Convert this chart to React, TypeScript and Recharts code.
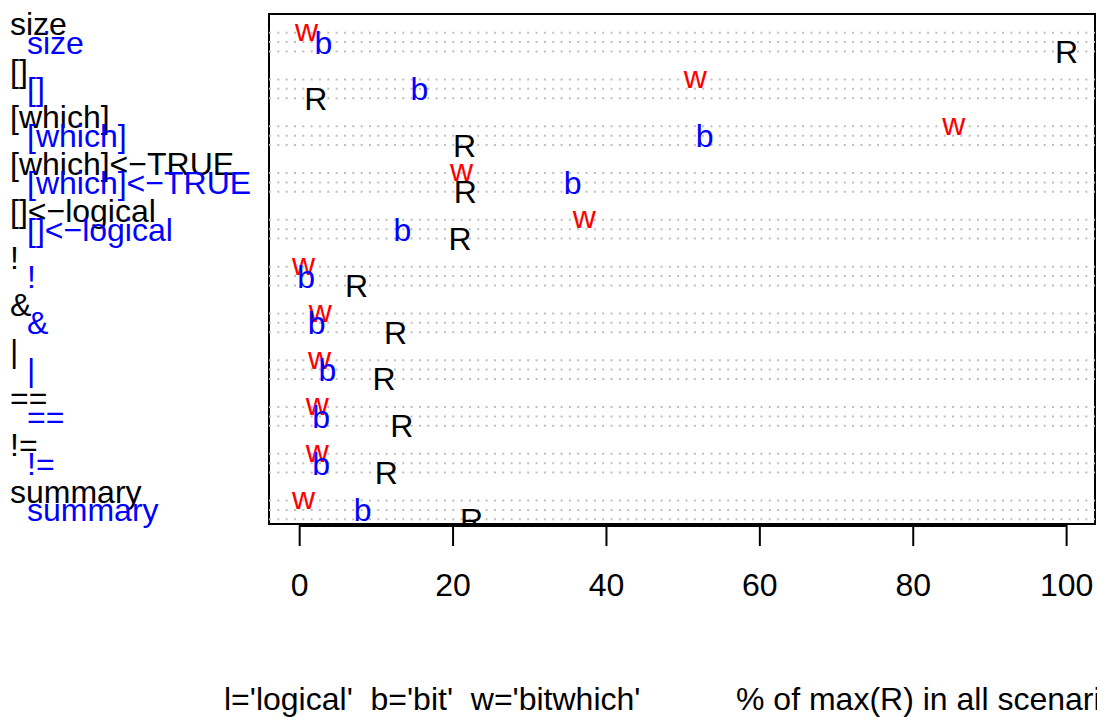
import React from 'react';
import {
  ComposedChart,
  Scatter,
  XAxis,
  YAxis,
  ReferenceLine,
  ReferenceArea,
  Customized,
} from 'recharts';

// group labels, top to bottom
const groups = [
  'size',
  '[]',
  '[which]',
  '[which]<\u2212TRUE',
  '[]<\u2212logical',
  '!',
  '&',
  '|',
  '==',
  '!=',
  'summary',
];

// % of max(R)
const logicalR = [100, 2.1, 21.5, 21.6, 20.9, 7.4, 12.5, 11.0, 13.3, 11.3, 22.4];
const bitValues = [3.1, 15.6, 52.8, 35.6, 13.4, 0.85, 2.2, 3.6, 2.8, 2.8, 8.2];
const bitwhichValues = [0.9, 51.6, 85.3, 21.1, 37.1, 0.5, 2.7, 2.6, 2.3, 2.3, 0.5];

const xTicks = [0, 20, 40, 60, 80, 100];
const legendText = "l='logical'  b='bit'  w='bitwhich'";
const axisTitle = '% of max(R) in all scenarios';

const FONT = "'Liberation Sans', Arial, Helvetica, sans-serif";
const FS = 32;
const X_DOMAIN: [number, number] = [-4, 103.7];
const Y_DOMAIN: [number, number] = [0, 54.5];

// each group takes 5 rows: label, 3 points, gap
const rowOf = (g: number, slot: number) => g * 5 + 2 + slot;
const groupLabelRow = (g: number) => g * 5 + 1;
const itemLabelRow = (g: number) => g * 5 + 3;

const series = [
  { letter: 'w', color: '#FF0000', values: bitwhichValues, slot: 0, dy: '0.26em' },
  { letter: 'b', color: '#0000FF', values: bitValues, slot: 1, dy: '0.36em' },
  { letter: 'R', color: '#000000', values: logicalR, slot: 2, dy: '0.36em' },
];

const gridRows = groups.flatMap((_, g) => [0, 1, 2].map((k) => rowOf(g, k)));

const labelByRow = new Map<number, { text: string; color: string; left: number }>();
groups.forEach((name, g) => {
  labelByRow.set(groupLabelRow(g), { text: name, color: '#000000', left: 10 });
  labelByRow.set(itemLabelRow(g), { text: name, color: '#0000FF', left: 27 });
});
const labelRows = Array.from(labelByRow.keys()).sort((a, b) => a - b);

function RowLabel(props: any) {
  const { y, payload } = props;
  const info = labelByRow.get(payload.value);
  if (!info) return null;
  return (
    <text x={info.left} y={y} dy="0.36em" fontSize={FS} fontFamily={FONT} fill={info.color} textAnchor="start">
      {info.text}
    </text>
  );
}

function letterShape(letter: string, color: string, dy: string) {
  return (props: any) => (
    <text
      x={props.cx}
      y={props.cy}
      dy={dy}
      textAnchor="middle"
      fontSize={FS}
      fontFamily={FONT}
      fill={color}
    >
      {letter}
    </text>
  );
}

function BottomTexts() {
  return (
    <g fontFamily={FONT} fontSize={FS} fill="#000">
      <text x={224} y={710} xmlSpace="preserve" style={{ whiteSpace: 'pre' }}>
        {legendText}
      </text>
      <text x={736} y={710}>
        {axisTitle}
      </text>
    </g>
  );
}

export default function App() {
  return (
    <div
      style={{
        position: 'absolute',
        left: 0,
        top: 0,
        width: 1097,
        height: 717,
        overflow: 'hidden',
        background: '#fff',
      }}
    >
      <ComposedChart width={1097} height={717} margin={{ top: 14, right: 2, bottom: 153, left: 0 }}>
        <XAxis
          type="number"
          dataKey="x"
          domain={X_DOMAIN}
          allowDataOverflow
          ticks={xTicks}
          interval={0}
          height={40}
          axisLine={false}
          tickSize={22}
          tickMargin={27}
          tickLine={{ stroke: '#000', strokeWidth: 2 }}
          tick={{ fill: '#000', fontSize: FS, fontFamily: FONT }}
        />
        <YAxis
          type="number"
          dataKey="y"
          domain={Y_DOMAIN}
          allowDataOverflow
          reversed
          width={269}
          ticks={labelRows}
          interval={0}
          axisLine={false}
          tickLine={false}
          tick={<RowLabel />}
        />
        {gridRows.map((r) => (
          <ReferenceLine
            key={r}
            y={r}
            stroke="#BEBEBE"
            strokeWidth={2}
            strokeDasharray="2 6.33"
          />
        ))}
        {series.map((s) => (
          <Scatter
            key={s.letter}
            name={s.letter}
            data={s.values.map((v, g) => ({ x: v, y: rowOf(g, s.slot) }))}
            shape={letterShape(s.letter, s.color, s.dy)}
            isAnimationActive={false}
          />
        ))}
        <ReferenceArea
          x1={X_DOMAIN[0]}
          x2={X_DOMAIN[1]}
          y1={Y_DOMAIN[0]}
          y2={Y_DOMAIN[1]}
          fill="none"
          fillOpacity={0}
          stroke="#000"
          strokeWidth={2}
          ifOverflow="visible"
        />
        <ReferenceLine
          segment={[
            { x: xTicks[0], y: 54.71 },
            { x: xTicks[xTicks.length - 1], y: 54.71 },
          ]}
          stroke="#000"
          strokeWidth={2}
          ifOverflow="visible"
        />
        <Customized component={BottomTexts} />
      </ComposedChart>
    </div>
  );
}
